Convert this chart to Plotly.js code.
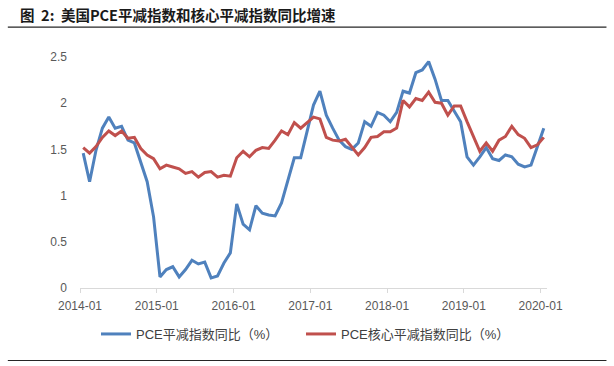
<!DOCTYPE html>
<html>
<head>
<meta charset="utf-8">
<script src="https://cdn.plot.ly/plotly-3.0.1.min.js"></script>
<style>html,body{margin:0;padding:0;background:#fff;}#chart{width:614px;height:366px;}</style>
</head>
<body>
<div id="chart"></div>
<script>
// Monthly, 2014-01 .. 2020-01
const months = [];
for (let y = 2014; y <= 2020; y++) {
  for (let m = 1; m <= 12; m++) {
    if (y === 2020 && m > 1) break;
    months.push(y + '-' + String(m).padStart(2, '0'));
  }
}
const pceYoY = [
  1.46, 1.15, 1.49, 1.73, 1.85, 1.73, 1.75, 1.60, 1.57, 1.36, 1.15, 0.77,
  0.12, 0.20, 0.23, 0.12, 0.20, 0.30, 0.26, 0.28, 0.11, 0.13, 0.27, 0.38,
  0.91, 0.69, 0.63, 0.89, 0.81, 0.79, 0.78, 0.92, 1.17, 1.41, 1.41, 1.70,
  1.98, 2.13, 1.87, 1.73, 1.60, 1.53, 1.50, 1.57, 1.80, 1.75, 1.90, 1.87,
  1.80, 1.90, 2.13, 2.11, 2.33, 2.36, 2.45, 2.26, 2.03, 2.03, 1.92, 1.80,
  1.42, 1.33, 1.42, 1.52, 1.40, 1.38, 1.44, 1.42, 1.34, 1.31, 1.33, 1.53,
  1.73
];
const corePceYoY = [
  1.52, 1.46, 1.53, 1.63, 1.70, 1.65, 1.70, 1.62, 1.63, 1.51, 1.44, 1.40,
  1.29, 1.33, 1.31, 1.29, 1.24, 1.26, 1.20, 1.25, 1.26, 1.20, 1.22, 1.21,
  1.41, 1.48, 1.42, 1.49, 1.52, 1.51, 1.60, 1.70, 1.66, 1.79, 1.73, 1.79,
  1.85, 1.83, 1.63, 1.60, 1.59, 1.61, 1.52, 1.44, 1.52, 1.63, 1.64, 1.69,
  1.69, 1.73, 2.03, 1.96, 2.05, 2.03, 2.12, 2.01, 2.00, 1.87, 1.97, 1.97,
  1.80, 1.63, 1.48, 1.57, 1.48, 1.60, 1.64, 1.75, 1.66, 1.62, 1.52, 1.55,
  1.63
];
const tickLabels = ['2014-01','2015-01','2016-01','2017-01','2018-01','2019-01','2020-01'];
const yTicks = [0, 0.5, 1, 1.5, 2, 2.5];
const yTickText = ['0', '0.5', '1', '1.5', '2', '2.5'];

const idx = months.map((_, i) => i);
const tickPos = tickLabels.map(t => months.indexOf(t) - 0.5);

const cjk = '"Liberation Sans", Arial, "Noto Sans CJK SC", sans-serif';

const traces = [
  {x: idx, y: pceYoY, customdata: months, type: 'scatter', mode: 'lines',
   name: 'PCE平减指数同比（%）', line: {color: '#4f81bd', width: 3}},
  {x: idx, y: corePceYoY, customdata: months, type: 'scatter', mode: 'lines',
   name: 'PCE核心平减指数同比（%）', line: {color: '#c0504d', width: 3}}
];

const L = 80.1, R = 546.6, T = 56.6, B = 288.3;
const W = 614, H = 366;
const pw = R - L, ph = B - T;
const px = v => (v - L) / pw;
const py = v => (B - v) / ph;

const layout = {
  width: W, height: H,
  margin: {l: L, r: W - R, t: T, b: H - B, pad: 0},
  paper_bgcolor: '#fff', plot_bgcolor: '#fff',
  showlegend: true,
  font: {family: cjk, color: '#595959', size: 12},
  xaxis: {
    range: [-0.5, months.length - 0.5],
    tickmode: 'array', tickvals: tickPos, ticktext: tickLabels,
    showgrid: false, zeroline: false,
    showline: true, linecolor: '#d9d9d9', linewidth: 1,
    ticks: 'outside', ticklen: 4, tickcolor: '#d9d9d9', tickwidth: 1,
    ticklabelstandoff: 3,
    tickfont: {size: 12, color: '#595959', family: cjk}
  },
  yaxis: {
    range: [0, 2.5],
    tickmode: 'array', tickvals: yTicks, ticktext: yTickText,
    showgrid: false, zeroline: false, showline: false,
    ticks: '', ticklabelstandoff: 12,
    tickfont: {size: 12, color: '#595959', family: cjk}
  },
  legend: {
    orientation: 'h', xref: 'container', yref: 'container',
    x: 96 / W, y: 1 - 334 / H, xanchor: 'left', yanchor: 'middle',
    font: {size: 13, color: '#404040', family: cjk},
    itemwidth: 30, entrywidth: 160, entrywidthmode: 'pixels',
    bgcolor: 'rgba(0,0,0,0)'
  },
  annotations: [{
    xref: 'paper', yref: 'paper', x: px(18), y: py(14),
    xanchor: 'left', yanchor: 'middle', showarrow: false,
    text: '<b>图  2:  美国PCE平减指数和核心平减指数同比增速</b>',
    font: {size: 14.5, color: '#1a1a1a', family: '"Noto Sans CJK SC", sans-serif'}
  }],
  shapes: [
    {type: 'line', xref: 'paper', yref: 'paper', x0: px(8), x1: px(606), y0: py(26.7), y1: py(26.7),
     line: {color: '#262626', width: 1.2}},
    {type: 'line', xref: 'paper', yref: 'paper', x0: px(8), x1: px(606), y0: py(361), y1: py(361),
     line: {color: '#262626', width: 1.2}}
  ]
};

Plotly.newPlot('chart', traces, layout, {displayModeBar: false, staticPlot: true});
</script>
</body>
</html>
